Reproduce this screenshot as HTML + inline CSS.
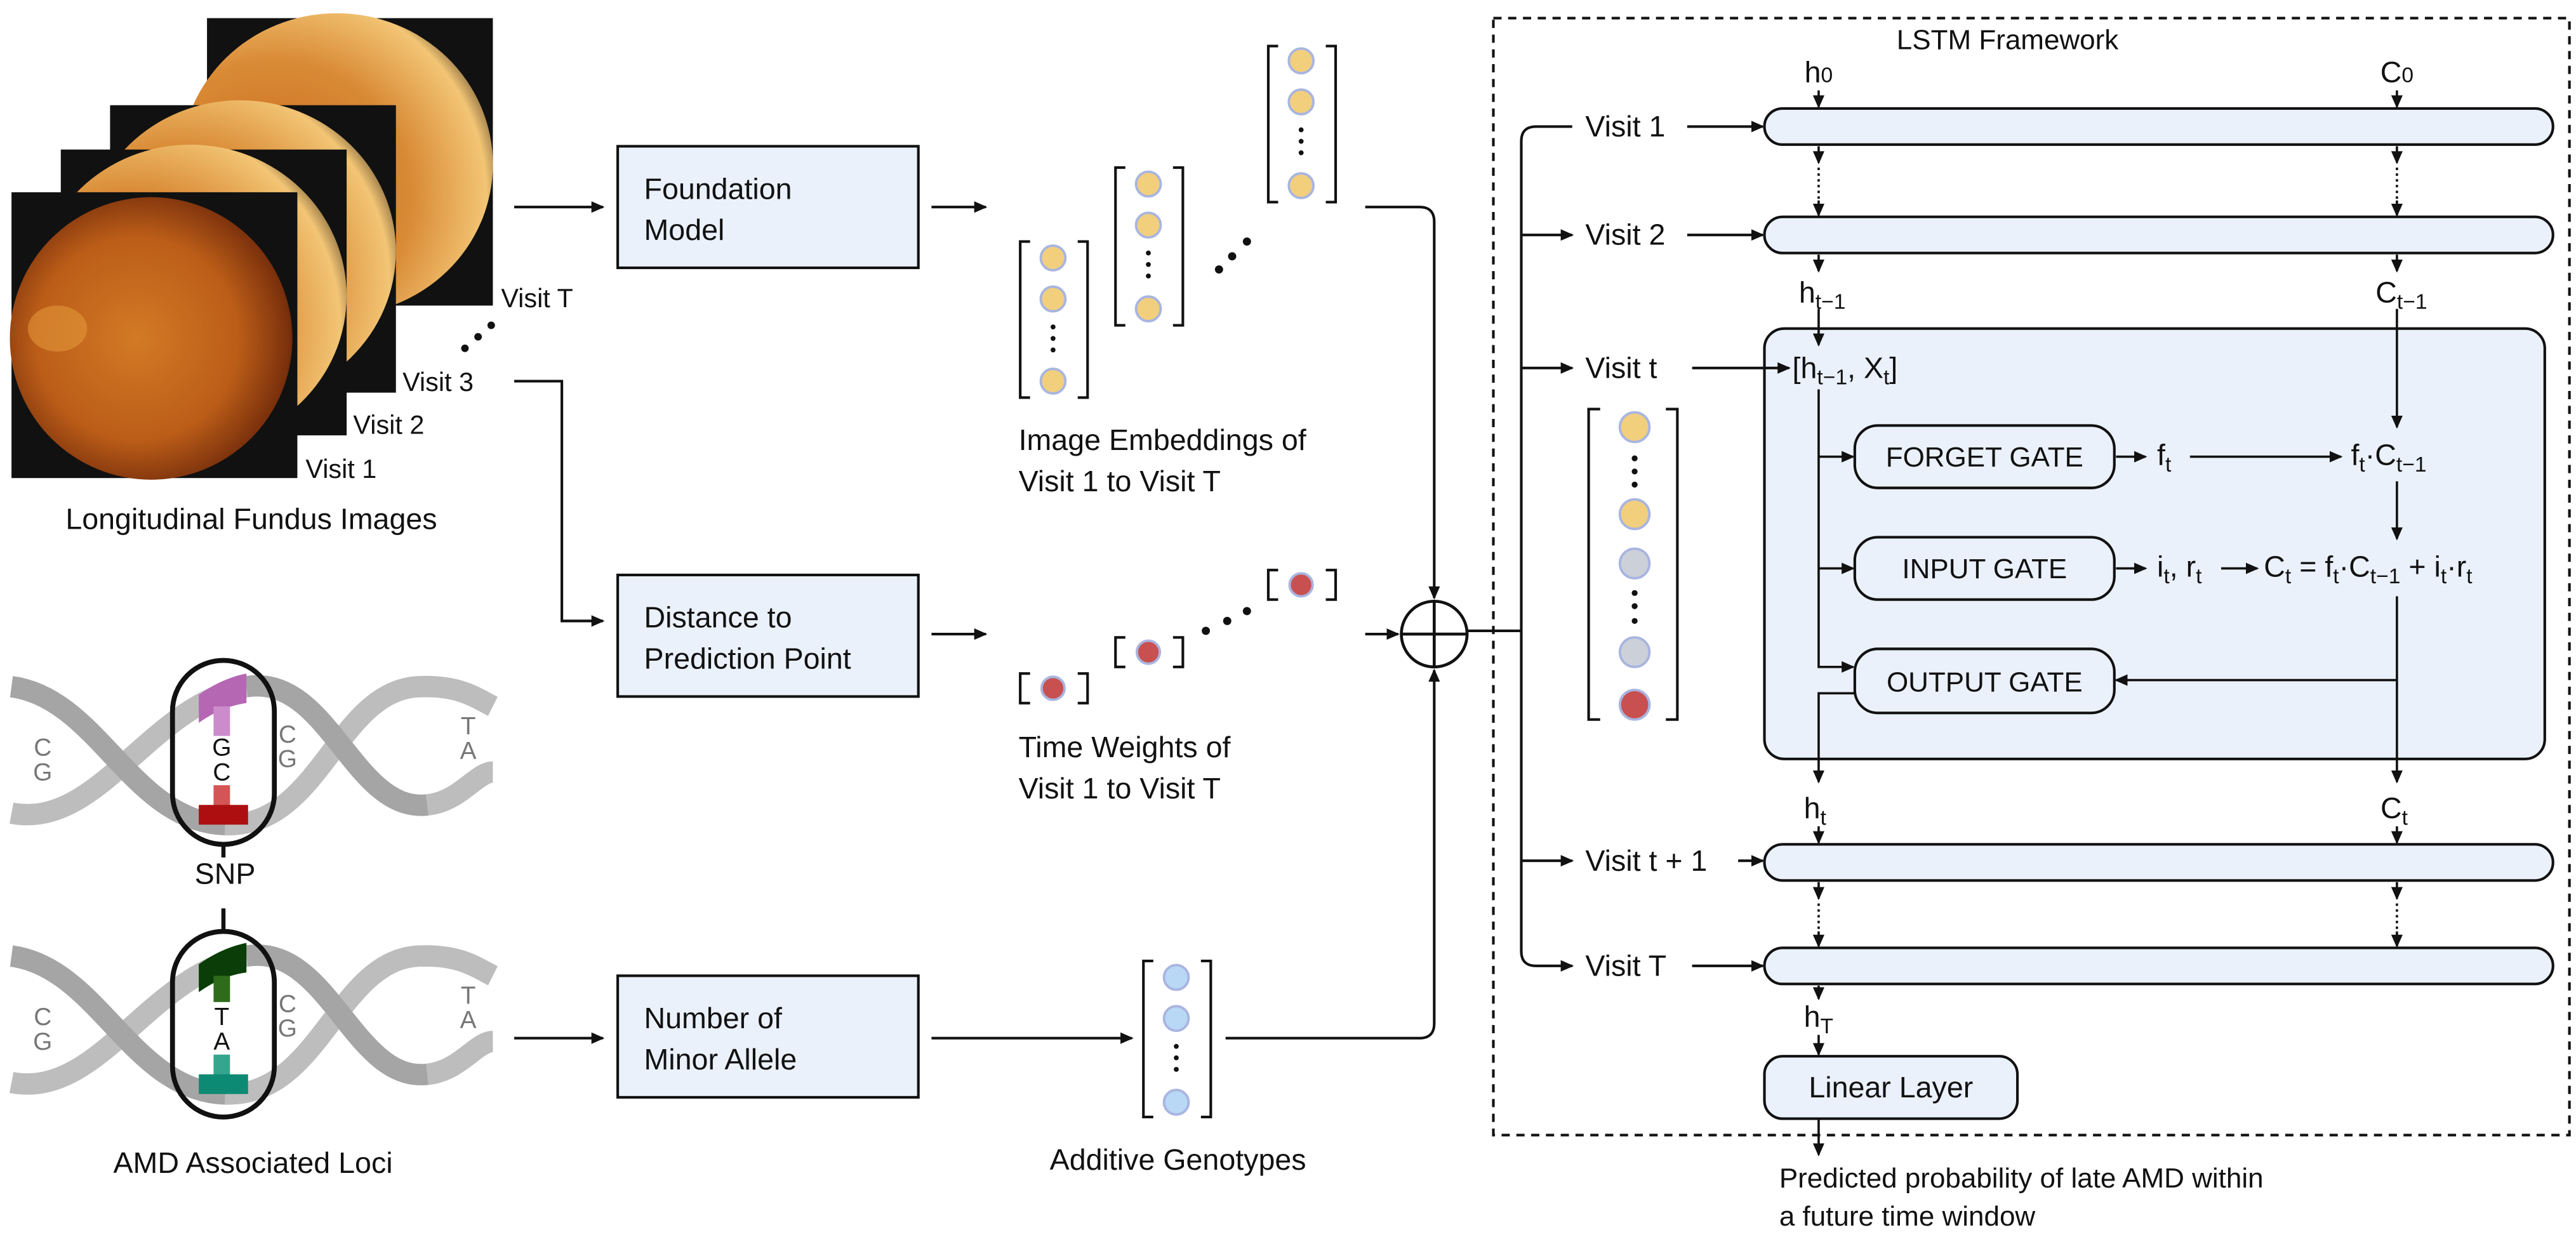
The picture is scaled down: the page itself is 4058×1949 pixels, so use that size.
<!DOCTYPE html>
<html><head><meta charset="utf-8"><style>
html,body{margin:0;padding:0;background:#fff}
svg{display:block}
text{font-family:"Liberation Sans","DejaVu Sans",sans-serif;fill:#111}
</style></head><body>
<svg width="4058" height="1949" viewBox="0 0 1568 753" xmlns="http://www.w3.org/2000/svg">
<defs>
<marker id="a" markerWidth="8" markerHeight="8" refX="7" refY="4" orient="auto" markerUnits="userSpaceOnUse"><path d="M0,0.5 L8,4 L0,7.5 z" fill="#111"/></marker>
<radialGradient id="f1" cx="0.45" cy="0.5" r="0.6"><stop offset="0" stop-color="#d27a25"/><stop offset="0.6" stop-color="#bb5d18"/><stop offset="0.9" stop-color="#7a300c"/><stop offset="1" stop-color="#2a0d05"/></radialGradient>
<radialGradient id="f2" cx="0.3" cy="0.6" r="0.8"><stop offset="0" stop-color="#c8661c"/><stop offset="0.55" stop-color="#d98a35"/><stop offset="0.85" stop-color="#f2c575"/><stop offset="1" stop-color="#2a1a10"/></radialGradient>
</defs>

<!-- Fundus images -->
<rect x="126" y="11" width="174" height="175" fill="#111"/>
<ellipse cx="205" cy="100" rx="95" ry="92" fill="url(#f2)"/>
<rect x="67" y="64" width="174" height="175" fill="#111"/>
<ellipse cx="146" cy="153" rx="95" ry="92" fill="url(#f2)"/>
<rect x="37" y="91" width="174" height="174" fill="#111"/>
<ellipse cx="116" cy="180" rx="95" ry="92" fill="url(#f2)"/>
<rect x="7" y="117" width="174" height="174" fill="#111"/>
<ellipse cx="92" cy="206" rx="86" ry="86" fill="url(#f1)"/>
<ellipse cx="35" cy="200" rx="18" ry="14" fill="#e9a040" opacity="0.5"/>
<text x="305" y="187" font-size="16">Visit T</text>
<text x="245" y="238" font-size="16">Visit 3</text>
<text x="215" y="264" font-size="16">Visit 2</text>
<text x="186" y="291" font-size="16">Visit 1</text>
<circle cx="283" cy="212" r="2.3" fill="#111"/><circle cx="291" cy="205" r="2.3" fill="#111"/><circle cx="299" cy="198" r="2.3" fill="#111"/>
<text x="153" y="322" font-size="18" text-anchor="middle">Longitudinal Fundus Images</text>

<!-- DNA 1 -->
<g fill="none" stroke-width="13">
<path d="M7,418 C60,425 80,500 137,502 C195,504 205,420 255,418 C280,417 290,425 300,430" stroke="#bdbdbd"/>
<path d="M7,495 C60,505 90,430 150,418 C200,410 215,495 260,490 C280,488 290,470 300,470" stroke="#bdbdbd"/>
<path d="M7,418 C60,425 80,500 137,502" stroke="#a5a5a5"/>
<path d="M150,418 C200,410 215,495 260,490" stroke="#a5a5a5"/>
</g>
<text x="26" y="460" font-size="15" text-anchor="middle" style="fill:#777">C</text>
<text x="26" y="475" font-size="15" text-anchor="middle" style="fill:#777">G</text>
<text x="175" y="452" font-size="15" text-anchor="middle" style="fill:#777">C</text>
<text x="175" y="467" font-size="15" text-anchor="middle" style="fill:#777">G</text>
<text x="285" y="447" font-size="15" text-anchor="middle" style="fill:#777">T</text>
<text x="285" y="462" font-size="15" text-anchor="middle" style="fill:#777">A</text>
<path d="M121,423 Q135,413 150,410 L150,428 Q135,430 121,440 Z" fill="#b567b3"/>
<rect x="130" y="430" width="10" height="18" fill="#cc8ccc"/>
<text x="135" y="460" font-size="15" text-anchor="middle">G</text>
<text x="135" y="475" font-size="15" text-anchor="middle">C</text>
<rect x="130" y="478" width="10" height="14" fill="#d35555"/>
<rect x="121" y="490" width="30" height="12" fill="#ad0f10"/>
<rect x="105" y="402" width="62" height="112" rx="31" fill="none" stroke="#111" stroke-width="3"/>
<line x1="136" y1="514" x2="136" y2="522" stroke="#111" stroke-width="2.5"/>
<text x="137" y="538" font-size="18" text-anchor="middle">SNP</text>

<!-- DNA 2 -->
<g fill="none" stroke-width="13">
<path d="M7,582 C60,589 80,664 137,666 C195,668 205,584 255,582 C280,581 290,589 300,594" stroke="#bdbdbd"/>
<path d="M7,659 C60,669 90,594 150,582 C200,574 215,659 260,654 C280,652 290,634 300,634" stroke="#bdbdbd"/>
<path d="M7,582 C60,589 80,664 137,666" stroke="#a5a5a5"/>
<path d="M150,582 C200,574 215,659 260,654" stroke="#a5a5a5"/>
</g>
<text x="26" y="624" font-size="15" text-anchor="middle" style="fill:#777">C</text>
<text x="26" y="639" font-size="15" text-anchor="middle" style="fill:#777">G</text>
<text x="175" y="616" font-size="15" text-anchor="middle" style="fill:#777">C</text>
<text x="175" y="631" font-size="15" text-anchor="middle" style="fill:#777">G</text>
<text x="285" y="611" font-size="15" text-anchor="middle" style="fill:#777">T</text>
<text x="285" y="626" font-size="15" text-anchor="middle" style="fill:#777">A</text>
<path d="M121,587 Q135,577 150,574 L150,592 Q135,594 121,604 Z" fill="#0a3d07"/>
<rect x="130" y="594" width="10" height="16" fill="#2e6b1a"/>
<text x="135" y="624" font-size="15" text-anchor="middle">T</text>
<text x="135" y="639" font-size="15" text-anchor="middle">A</text>
<rect x="130" y="642" width="10" height="14" fill="#35a58d"/>
<rect x="121" y="654" width="30" height="12" fill="#0d8a73"/>
<rect x="105" y="567" width="62" height="113" rx="31" fill="none" stroke="#111" stroke-width="3"/>
<line x1="136" y1="553" x2="136" y2="567" stroke="#111" stroke-width="2.5"/>
<text x="154" y="714" font-size="18" text-anchor="middle">AMD Associated Loci</text>

<!-- Middle boxes -->
<g stroke="#111" stroke-width="1.6" fill="none">
<line x1="313" y1="126" x2="367" y2="126" marker-end="url(#a)"/>
<path d="M313,232 L342,232 L342,378 L367,378" marker-end="url(#a)"/>
<line x1="313" y1="632" x2="367" y2="632" marker-end="url(#a)"/>
<line x1="567" y1="126" x2="600" y2="126" marker-end="url(#a)"/>
<line x1="567" y1="386" x2="600" y2="386" marker-end="url(#a)"/>
<line x1="567" y1="632" x2="689" y2="632" marker-end="url(#a)"/>
<path d="M831,126 L864,126 Q873,126 873,135 L873,364" marker-end="url(#a)"/>
<line x1="831" y1="386" x2="851" y2="386" marker-end="url(#a)"/>
<path d="M746,632 L864,632 Q873,632 873,623 L873,408" marker-end="url(#a)"/>
</g>
<g fill="#eaf1fb" stroke="#111" stroke-width="1.6">
<rect x="376" y="89" width="183" height="74"/>
<rect x="376" y="350" width="183" height="74"/>
<rect x="376" y="594" width="183" height="74"/>
</g>
<text x="392" y="121" font-size="18">Foundation</text><text x="392" y="146" font-size="18">Model</text>
<text x="392" y="382" font-size="18">Distance to</text><text x="392" y="407" font-size="18">Prediction Point</text>
<text x="392" y="626" font-size="18">Number of</text><text x="392" y="651" font-size="18">Minor Allele</text>

<!-- embeddings -->
<g stroke="#111" stroke-width="1.6" fill="none">
<path d="M627,147 L621,147 L621,242 L627,242 M656,147 L662,147 L662,242 L656,242"/>
<path d="M685,102 L679,102 L679,198 L685,198 M714,102 L720,102 L720,198 L714,198"/>
<path d="M778,28 L772,28 L772,123 L778,123 M807,28 L813,28 L813,123 L807,123"/>
<path d="M627,410 L621,410 L621,428 L627,428 M656,410 L662,410 L662,428 L656,428"/>
<path d="M685,388 L679,388 L679,406 L685,406 M714,388 L720,388 L720,406 L714,406"/>
<path d="M778,347 L772,347 L772,365 L778,365 M807,347 L813,347 L813,365 L807,365"/>
<path d="M702,585 L696,585 L696,680 L702,680 M731,585 L737,585 L737,680 L731,680"/>
</g>
<g fill="#f2cf7d" stroke="#a9b5e0" stroke-width="1.5">
<circle cx="641" cy="157" r="7.5"/><circle cx="641" cy="182" r="7.5"/><circle cx="641" cy="232" r="7.5"/>
<circle cx="699" cy="112" r="7.5"/><circle cx="699" cy="137" r="7.5"/><circle cx="699" cy="188" r="7.5"/>
<circle cx="792" cy="37" r="7.5"/><circle cx="792" cy="62" r="7.5"/><circle cx="792" cy="113" r="7.5"/>
</g>
<g fill="#c85050" stroke="#a9b5e0" stroke-width="1.5">
<circle cx="641" cy="419" r="7"/><circle cx="699" cy="397" r="7"/><circle cx="792" cy="356" r="7"/>
</g>
<g fill="#b8d8f5" stroke="#a9b5e0" stroke-width="1.5">
<circle cx="716" cy="595" r="7.5"/><circle cx="716" cy="620" r="7.5"/><circle cx="716" cy="671" r="7.5"/>
</g>
<g fill="#111">
<circle cx="641" cy="199" r="1.5"/><circle cx="641" cy="206" r="1.5"/><circle cx="641" cy="213" r="1.5"/>
<circle cx="699" cy="154" r="1.5"/><circle cx="699" cy="161" r="1.5"/><circle cx="699" cy="168" r="1.5"/>
<circle cx="792" cy="79" r="1.5"/><circle cx="792" cy="86" r="1.5"/><circle cx="792" cy="93" r="1.5"/>
<circle cx="716" cy="637" r="1.5"/><circle cx="716" cy="644" r="1.5"/><circle cx="716" cy="651" r="1.5"/>
<circle cx="742" cy="164" r="2.5"/><circle cx="750" cy="156" r="2.5"/><circle cx="759" cy="147" r="2.5"/>
<circle cx="734" cy="384" r="2.5"/><circle cx="747" cy="378" r="2.5"/><circle cx="759" cy="372" r="2.5"/>
</g>
<text x="620" y="274" font-size="18">Image Embeddings of</text>
<text x="620" y="299" font-size="18">Visit 1 to Visit T</text>
<text x="620" y="461" font-size="18">Time Weights of</text>
<text x="620" y="486" font-size="18">Visit 1 to Visit T</text>
<text x="717" y="712" font-size="18" text-anchor="middle">Additive Genotypes</text>

<!-- sum circle -->
<circle cx="873" cy="386" r="20" fill="#fff" stroke="#111" stroke-width="1.8"/>
<line x1="853" y1="386" x2="893" y2="386" stroke="#111" stroke-width="1.8"/>
<line x1="873" y1="366" x2="873" y2="406" stroke="#111" stroke-width="1.8"/>

<!-- LSTM -->
<rect x="909" y="11" width="655" height="680" fill="none" stroke="#111" stroke-width="1.6" stroke-dasharray="5,4"/>
<text x="1222" y="30" font-size="17" text-anchor="middle">LSTM Framework</text>
<g fill="#eaf1fb" stroke="#111" stroke-width="1.6">
<rect x="1074" y="66" width="480" height="22" rx="11"/>
<rect x="1074" y="132" width="480" height="22" rx="11"/>
<rect x="1074" y="200" width="475" height="262" rx="12"/>
<rect x="1074" y="514" width="480" height="22" rx="11"/>
<rect x="1074" y="577" width="480" height="22" rx="11"/>
<rect x="1074" y="643" width="154" height="38" rx="11"/>
<rect x="1129" y="259" width="158" height="38" rx="14"/>
<rect x="1129" y="327" width="158" height="38" rx="14"/>
<rect x="1129" y="395" width="158" height="39" rx="14"/>
</g>
<g stroke="#111" stroke-width="1.6" fill="none">
<line x1="893" y1="384" x2="926" y2="384"/>
<path d="M957,77 L935,77 Q926,77 926,86 L926,579 Q926,588 935,588 L957,588" marker-end="url(#a)"/>
<line x1="926" y1="143" x2="957" y2="143" marker-end="url(#a)"/>
<line x1="926" y1="224" x2="957" y2="224" marker-end="url(#a)"/>
<line x1="926" y1="524" x2="957" y2="524" marker-end="url(#a)"/>
<line x1="1027" y1="77" x2="1073" y2="77" marker-end="url(#a)"/>
<line x1="1027" y1="143" x2="1073" y2="143" marker-end="url(#a)"/>
<line x1="1030" y1="224" x2="1089" y2="224" marker-end="url(#a)"/>
<line x1="1058" y1="524" x2="1073" y2="524" marker-end="url(#a)"/>
<line x1="1030" y1="588" x2="1073" y2="588" marker-end="url(#a)"/>
</g>
<text x="1107" y="50" font-size="18" text-anchor="middle">h<tspan font-size="13">0</tspan></text>
<text x="1459" y="50" font-size="18" text-anchor="middle">C<tspan font-size="13">0</tspan></text>
<text x="1095" y="184" font-size="18">h<tspan font-size="13" dy="4">t−1</tspan></text>
<text x="1446" y="184" font-size="18">C<tspan font-size="13" dy="4">t−1</tspan></text>
<text x="1098" y="498" font-size="18">h<tspan font-size="13" dy="4">t</tspan></text>
<text x="1449" y="498" font-size="18">C<tspan font-size="13" dy="4">t</tspan></text>
<text x="1098" y="625" font-size="18">h<tspan font-size="13" dy="4">T</tspan></text>
<g stroke="#111" stroke-width="1.4" fill="none">
<line x1="1107" y1="55" x2="1107" y2="65" marker-end="url(#a)"/>
<line x1="1459" y1="55" x2="1459" y2="65" marker-end="url(#a)"/>
<line x1="1107" y1="89" x2="1107" y2="99" marker-end="url(#a)"/>
<line x1="1459" y1="89" x2="1459" y2="99" marker-end="url(#a)"/>
<line x1="1107" y1="102" x2="1107" y2="122" stroke-dasharray="1.5,2"/>
<line x1="1459" y1="102" x2="1459" y2="122" stroke-dasharray="1.5,2"/>
<line x1="1107" y1="122" x2="1107" y2="131" marker-end="url(#a)"/>
<line x1="1459" y1="122" x2="1459" y2="131" marker-end="url(#a)"/>
<line x1="1107" y1="155" x2="1107" y2="165" marker-end="url(#a)"/>
<line x1="1459" y1="155" x2="1459" y2="165" marker-end="url(#a)"/>
<line x1="1107" y1="188" x2="1107" y2="210" marker-end="url(#a)"/>
<path d="M1107,237 L1107,406 L1128,406" marker-end="url(#a)"/>
<line x1="1107" y1="278" x2="1128" y2="278" marker-end="url(#a)"/>
<line x1="1107" y1="346" x2="1128" y2="346" marker-end="url(#a)"/>
<path d="M1129,422 L1107,422 L1107,476" marker-end="url(#a)"/>
<line x1="1459" y1="188" x2="1459" y2="260" marker-end="url(#a)"/>
<line x1="1459" y1="293" x2="1459" y2="328" marker-end="url(#a)"/>
<line x1="1459" y1="363" x2="1459" y2="476" marker-end="url(#a)"/>
<line x1="1459" y1="414" x2="1288" y2="414" marker-end="url(#a)"/>
<line x1="1288" y1="278" x2="1306" y2="278" marker-end="url(#a)"/>
<line x1="1333" y1="278" x2="1425" y2="278" marker-end="url(#a)"/>
<line x1="1288" y1="346" x2="1306" y2="346" marker-end="url(#a)"/>
<line x1="1352" y1="346" x2="1374" y2="346" marker-end="url(#a)"/>
<line x1="1107" y1="503" x2="1107" y2="513" marker-end="url(#a)"/>
<line x1="1459" y1="503" x2="1459" y2="513" marker-end="url(#a)"/>
<line x1="1107" y1="537" x2="1107" y2="547" marker-end="url(#a)"/>
<line x1="1459" y1="537" x2="1459" y2="547" marker-end="url(#a)"/>
<line x1="1107" y1="550" x2="1107" y2="567" stroke-dasharray="1.5,2"/>
<line x1="1459" y1="550" x2="1459" y2="567" stroke-dasharray="1.5,2"/>
<line x1="1107" y1="567" x2="1107" y2="576" marker-end="url(#a)"/>
<line x1="1459" y1="567" x2="1459" y2="576" marker-end="url(#a)"/>
<line x1="1107" y1="600" x2="1107" y2="608" marker-end="url(#a)"/>
<line x1="1107" y1="630" x2="1107" y2="642" marker-end="url(#a)"/>
<line x1="1107" y1="681" x2="1107" y2="703" marker-end="url(#a)"/>
</g>
<text x="965" y="83" font-size="18">Visit 1</text>
<text x="965" y="149" font-size="18">Visit 2</text>
<text x="965" y="230" font-size="18">Visit t</text>
<text x="965" y="530" font-size="18">Visit t + 1</text>
<text x="965" y="594" font-size="18">Visit T</text>
<text x="1091" y="230" font-size="18">[h<tspan font-size="13" dy="4">t−1</tspan><tspan dy="-4">, X</tspan><tspan font-size="13" dy="4">t</tspan><tspan dy="-4">]</tspan></text>
<text x="1208" y="284" font-size="17" text-anchor="middle">FORGET GATE</text>
<text x="1208" y="352" font-size="17" text-anchor="middle">INPUT GATE</text>
<text x="1208" y="421" font-size="17" text-anchor="middle">OUTPUT GATE</text>
<text x="1313" y="283" font-size="18">f<tspan font-size="13" dy="4">t</tspan></text>
<text x="1431" y="283" font-size="18">f<tspan font-size="13" dy="4">t</tspan><tspan dy="-4">·C</tspan><tspan font-size="13" dy="4">t−1</tspan></text>
<text x="1313" y="351" font-size="18">i<tspan font-size="13" dy="4">t</tspan><tspan dy="-4">, r</tspan><tspan font-size="13" dy="4">t</tspan></text>
<text x="1378" y="351" font-size="18">C<tspan font-size="13" dy="4">t</tspan><tspan dy="-4"> = f</tspan><tspan font-size="13" dy="4">t</tspan><tspan dy="-4">·C</tspan><tspan font-size="13" dy="4">t−1</tspan><tspan dy="-4"> + i</tspan><tspan font-size="13" dy="4">t</tspan><tspan dy="-4">·r</tspan><tspan font-size="13" dy="4">t</tspan></text>
<text x="1151" y="668" font-size="18" text-anchor="middle">Linear Layer</text>
<text x="1083" y="723" font-size="17">Predicted probability of late AMD within</text>
<text x="1083" y="746" font-size="17">a future time window</text>

<!-- visit t vector -->
<path d="M974,249 L967,249 L967,438 L974,438 M1014,249 L1021,249 L1021,438 L1014,438" stroke="#111" stroke-width="1.6" fill="none"/>
<g stroke="#a9b5e0" stroke-width="1.5">
<circle cx="995" cy="260" r="9" fill="#f2cf7d"/><circle cx="995" cy="313" r="9" fill="#f2cf7d"/>
<circle cx="995" cy="343" r="9" fill="#ccd0d8"/><circle cx="995" cy="397" r="9" fill="#ccd0d8"/>
<circle cx="995" cy="429" r="9" fill="#c85050"/>
</g>
<g fill="#111">
<circle cx="995" cy="279" r="1.8"/><circle cx="995" cy="287" r="1.8"/><circle cx="995" cy="295" r="1.8"/>
<circle cx="995" cy="361" r="1.8"/><circle cx="995" cy="369" r="1.8"/><circle cx="995" cy="378" r="1.8"/>
</g>
</svg>
</body></html>
